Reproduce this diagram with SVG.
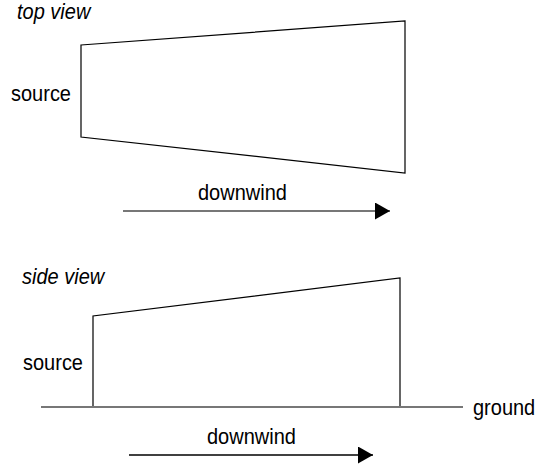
<svg xmlns="http://www.w3.org/2000/svg" width="535" height="468" viewBox="0 0 535 468">
<style>
text{font-family:"Liberation Sans",Arial,sans-serif;font-size:20px;fill:#000}
.it{font-style:italic}
.shape{fill:none;stroke:#000;stroke-width:1.2}
.grey{stroke:#777;stroke-width:2;fill:none}
.blk{stroke:#000;stroke-width:1.5;fill:none}
</style>
<defs>
<marker id="ah" markerUnits="userSpaceOnUse" markerWidth="16" markerHeight="18" refX="15" refY="8.5" orient="auto"><path d="M0,0 L15,8.5 L0,17 Z" fill="#000"/></marker>
</defs>
<g id="top-view">
<text class="it" transform="matrix(1,0,0,1.1,17,19)">top view</text>
<text transform="matrix(1,0,0,1.12,11,101)">source</text>
<polygon class="shape" points="81,45 405,21 405,173 81,137"/>
</g>
<g id="side-view">
<text class="it" transform="matrix(1,0,0,1.12,22,284)">side view</text>
<text transform="matrix(1,0,0,1.12,23,370)">source</text>
<polyline class="shape" points="93,407 93,316 400,278 400,407"/>
</g>
<g id="ground">
<text transform="matrix(1,0,0,1.12,473,415)">ground</text>
</g>
<g id="connectors">
<line class="grey" x1="41" y1="407" x2="463" y2="407"/>
<line class="grey" x1="123" y1="211" x2="390" y2="211" marker-end="url(#ah)"/>
<text transform="matrix(1,0,0,1.12,198,200)">downwind</text>
<line class="blk" x1="129" y1="455" x2="373" y2="455" marker-end="url(#ah)"/>
<text transform="matrix(1,0,0,1.12,207,444)">downwind</text>
</g>
</svg>
